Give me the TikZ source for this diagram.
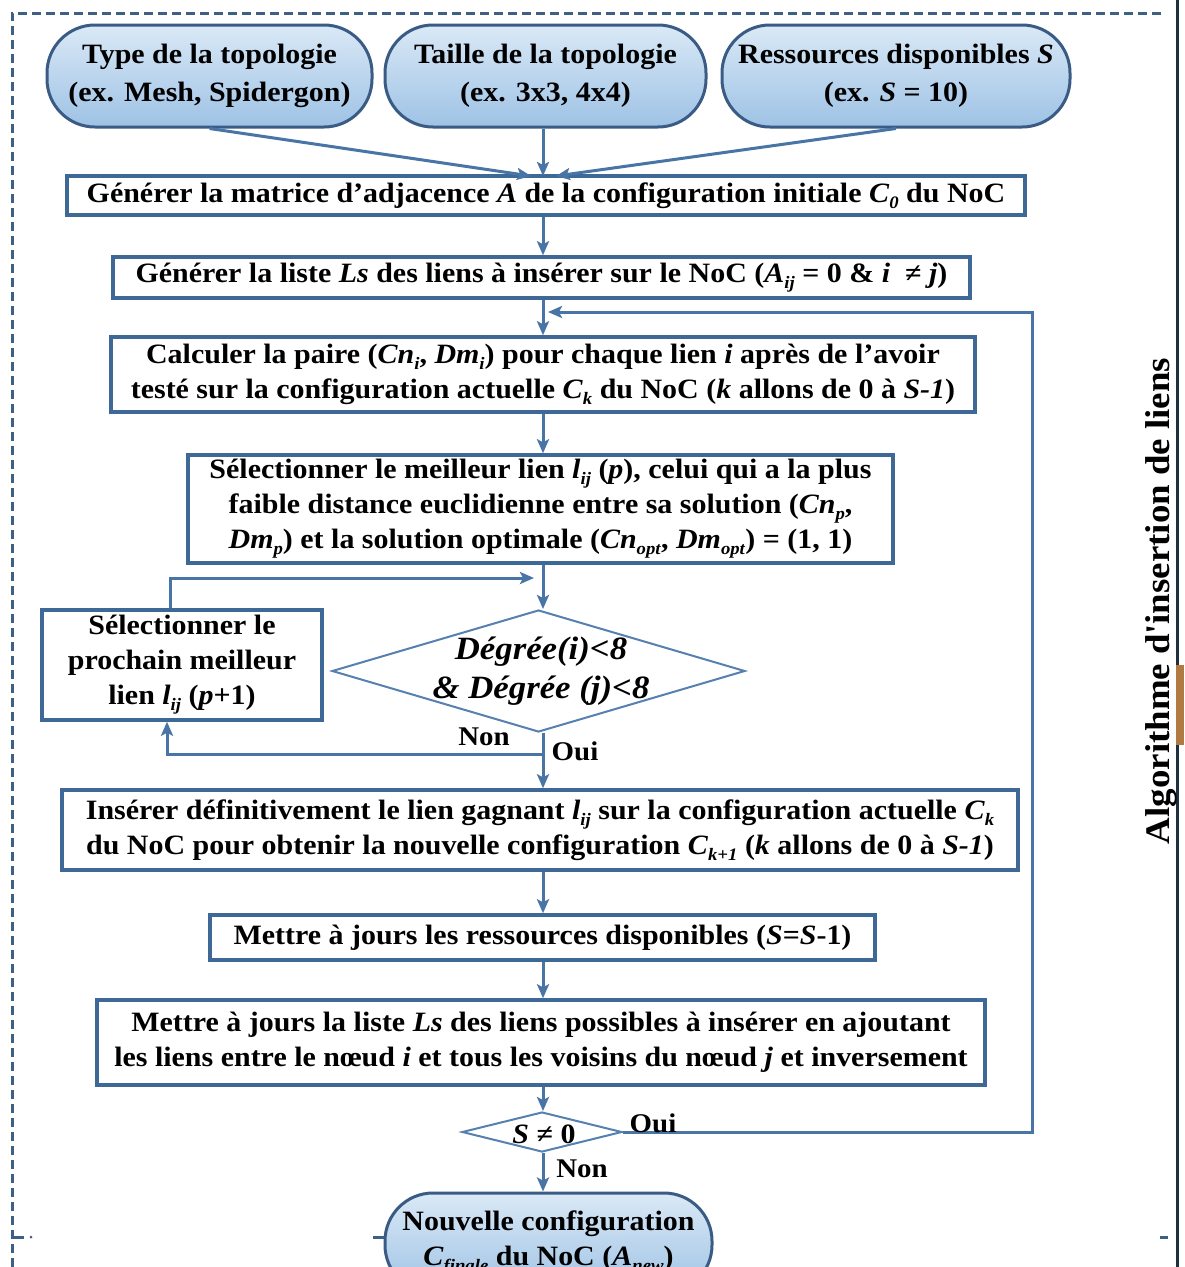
\documentclass[tikz,border=0pt]{standalone}
\usepackage{fontspec}
\usepackage{graphicx}
\setmainfont{Liberation Serif}[FakeStretch=1.07]
\usetikzlibrary{arrows.meta,shapes.geometric}

\definecolor{boxcol}{RGB}{62,104,150}
\definecolor{arrcol}{RGB}{72,116,166}
\definecolor{pillcol}{RGB}{58,92,132}
\definecolor{pilltop}{RGB}{218,233,246}
\definecolor{pillbot}{RGB}{158,194,229}
\definecolor{diacol}{RGB}{86,128,176}
\definecolor{framecol}{RGB}{62,96,132}
\definecolor{edgecol}{RGB}{30,48,64}
\definecolor{tabcol}{RGB}{176,122,64}

% lowered index in a smaller size
\newcommand\lo[1]{\raisebox{-0.22em}{\fontsize{17.5}{18}\selectfont #1}}

\tikzset{
  every node/.style={font=\fontsize{28}{35}\selectfont\bfseries, text=black},
  stepbox/.style={draw=boxcol, line width=3.5pt, fill=white, align=center,
                  inner sep=0pt},
  pill/.style={draw=pillcol, line width=3pt, rounded corners=48pt,
               top color=pilltop, bottom color=pillbot, align=center,
               inner sep=0pt},
  decision/.style={diamond, draw=diacol, line width=2pt, fill=white,
                   inner sep=0pt},
  arr/.style={draw=arrcol, line width=3pt,
              -{Stealth[length=14pt,width=12pt,inset=3pt]}},
  lbl/.style={font=\fontsize{27}{30}\selectfont\bfseries, inner sep=0pt},
}

\begin{document}
\begin{tikzpicture}[x=1pt,y=-1pt]
\useasboundingbox (0,0) rectangle (1184,1267);
\clip (0,0) rectangle (1184,1267);
\fill[white] (0,0) rectangle (1184,1267);

% dashed frame and right edge
\draw[framecol, line width=3pt, dash pattern=on 9pt off 5pt]
  (12,1267) -- (12,13) -- (1165,13);
\draw[framecol, line width=3pt] (12,1237) -- (24,1237);
\fill[framecol] (31,1237) circle (1.5pt);
\draw[framecol, line width=3pt] (373,1237) -- (386,1237);
\draw[framecol, line width=3pt] (1160,1237) -- (1168,1237);
\draw[edgecol, line width=3.5pt] (1177.5,0) -- (1177.5,1267);
\fill[tabcol] (1176,665) rectangle (1184,745);

\node[rotate=90, font=\fontsize{34.5}{40}\selectfont\bfseries]
  (title) at (1161,601) {Algorithme d\textquotesingle insertion de liens};

\coordinate (col) at (543,0);

% inputs
\node[pill, minimum width=325pt, minimum height=102pt,
      font=\fontsize{28}{38}\selectfont\bfseries] (t1) at (209.5,76)
  {Type de la topologie\\(ex. Mesh, Spidergon)};
\node[pill, minimum width=321pt, minimum height=102pt,
      font=\fontsize{28}{38}\selectfont\bfseries] (t2) at (545.5,76)
  {Taille de la topologie\\(ex. 3x3, 4x4)};
\node[pill, minimum width=348pt, minimum height=102pt,
      font=\fontsize{28}{38}\selectfont\bfseries] (t3) at (896,76)
  {Ressources disponibles \textit{S}\\(ex. \textit{S} = 10)};

% steps
\node[stepbox, minimum width=958pt, minimum height=39pt] (b1) at (546,195.5)
  {Générer la matrice d’adjacence \textit{A} de la configuration initiale \textit{C}\lo{\textit{0}} du NoC};
\node[stepbox, minimum width=857pt, minimum height=41pt] (b2) at (541.5,277.5)
  {Générer la liste \textit{Ls} des liens à insérer sur le NoC (\textit{A}\lo{\textit{ij}} = 0 \& \textit{i}\ \ ≠ \textit{j})};
\node[stepbox, minimum width=864pt, minimum height=75pt] (b3) at (543,374.5)
  {Calculer la paire (\textit{Cn}\lo{\textit{i}}, \textit{Dm}\lo{\textit{i}}) pour chaque lien \textit{i} après de l’avoir\\
   testé sur la configuration actuelle \textit{C}\lo{\textit{k}} du NoC (\textit{k} allons de 0 à \textit{S-1})};
\node[stepbox, minimum width=705pt, minimum height=108pt] (b4) at (540.5,509)
  {Sélectionner le meilleur lien \textit{l}\lo{\textit{ij}} (\textit{p}), celui qui a la plus\\
   faible distance euclidienne entre sa solution (\textit{Cn}\lo{\textit{p}},\\
   \textit{Dm}\lo{\textit{p}}) et la solution optimale (\textit{Cn}\lo{\textit{opt}}, \textit{Dm}\lo{\textit{opt}}) = (1, 1)};
\node[stepbox, minimum width=280pt, minimum height=110pt] (sb) at (182,665)
  {Sélectionner le\\prochain meilleur\\lien \textit{l}\lo{\textit{ij}} (\textit{p}+1)};
\node[decision, minimum width=413pt, minimum height=122pt] (d1) at (538.5,671) {};
\node[font=\fontsize{32.5}{39}\selectfont\bfseries\itshape, align=center]
  (d1txt) at (541,671) {Dégrée(i)<8\\\& Dégrée (j)<8};
\node[stepbox, minimum width=956pt, minimum height=80pt] (b5) at (540,830)
  {Insérer définitivement le lien gagnant \textit{l}\lo{\textit{ij}} sur la configuration actuelle \textit{C}\lo{\textit{k}}\\
   du NoC pour obtenir la nouvelle configuration \textit{C}\lo{\textit{k+1}} (\textit{k} allons de 0 à \textit{S-1})};
\node[stepbox, minimum width=665pt, minimum height=45pt] (b6) at (542.5,937.5)
  {Mettre à jours les ressources disponibles (\textit{S}=\textit{S}-1)};
\node[stepbox, minimum width=888pt, minimum height=85pt] (b7) at (541,1042.5)
  {Mettre à jours la liste \textit{Ls} des liens possibles à insérer en ajoutant\\
   les liens entre le nœud \textit{i} et tous les voisins du nœud \textit{j} et inversement};
\node[decision, minimum width=160pt, minimum height=40pt] (d2) at (542,1132) {};
\node[font=\fontsize{28}{30}\selectfont\bfseries] (d2txt) at (544,1134)
  {\textit{S} ≠ 0};
\node[pill, minimum width=327pt, minimum height=100pt] (fin) at (548.5,1243)
  {Nouvelle configuration\\\textit{C}\lo{\textit{finale}} du NoC (\textit{A}\lo{\textit{new}})};

% connectors
\coordinate (m1) at (531,176);
\coordinate (m2) at (543,176);
\coordinate (m3) at (556,176);
\draw[arr] (t1.south) -- (m1);
\draw[arr] (t2.south -| col) -- (m2);
\draw[arr] (t3.south) -- (m3);
\draw[arr] (b1.south -| col) -- (b2.north -| col);
\draw[arr] (b2.south -| col) -- (b3.north -| col);
\draw[arr] (b3.south -| col) -- (b4.north -| col);
\draw[arr] (b4.south -| col) -- (d1.north -| col);

\coordinate (fbt) at (534,578);
\draw[arr] ([xshift=-12pt]sb.north) |- (fbt);

\coordinate (j1) at (543,754);
\draw[arr] (d1.south -| col) -- (b5.north -| col);
\draw[arr] (j1) -| ([xshift=-15pt]sb.south);

\draw[arr] (b5.south -| col) -- (b6.north -| col);
\draw[arr] (b6.south -| col) -- (b7.north -| col);
\draw[arr] (b7.south -| col) -- (d2.north -| col);
\draw[arr] (d2.south -| col) -- (fin.north -| col);

\coordinate (rc) at (1032,312);
\coordinate (lp) at (548,312);
\draw[arr] (d2.east) -| (rc) -- (lp);

% branch labels
\node[lbl] (non1) at (484,737) {Non};
\node[lbl] (oui1) at (575,751) {Oui};
\node[lbl] (oui2) at (653,1123) {Oui};
\node[lbl] (non2) at (582,1169) {Non};
\end{tikzpicture}
\end{document}
